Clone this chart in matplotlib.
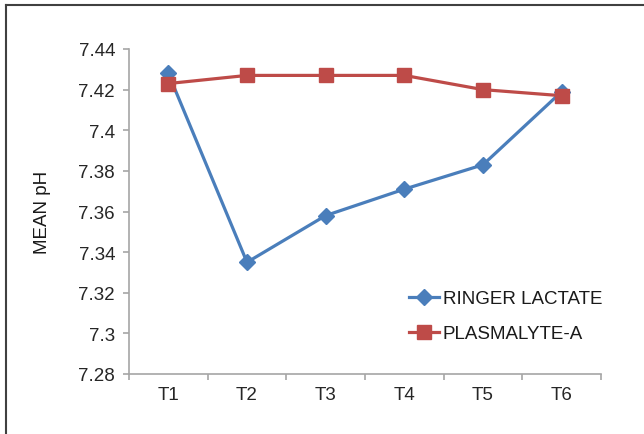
import matplotlib
matplotlib.use("Agg")
import matplotlib.pyplot as plt
from matplotlib.lines import Line2D

# Mean pH at each time point
time_points = ["T1", "T2", "T3", "T4", "T5", "T6"]
ringer_lactate = [7.428, 7.335, 7.358, 7.371, 7.383, 7.419]
plasmalyte_a = [7.423, 7.427, 7.427, 7.427, 7.420, 7.417]
y_ticks = [7.28, 7.30, 7.32, 7.34, 7.36, 7.38, 7.40, 7.42, 7.44]
y_tick_labels = ["7.28", "7.3", "7.32", "7.34", "7.36", "7.38", "7.4", "7.42", "7.44"]

plt.rcParams["font.family"] = ["Liberation Sans", "DejaVu Sans"]

W, H = 644, 435
fig = plt.figure(figsize=(W / 100, H / 100), dpi=100)
ax = fig.add_axes([129 / W, 1 - 375 / H, (601 - 129) / W, (375 - 50) / H])

blue = "#4A7EBB"
red = "#BE4B48"
x = list(range(len(time_points)))

ax.plot(x, ringer_lactate, color=blue, lw=2.3, marker="D", ms=8.5,
        mec=blue, mfc=blue, label="RINGER LACTATE", zorder=3)
ax.plot(x, plasmalyte_a, color=red, lw=2.3, marker="s", ms=9.5,
        mec=red, mfc=red, label="PLASMALYTE-A", zorder=4)

ax.set_xlim(-0.5, len(time_points) - 0.5)
ax.set_ylim(7.28, 7.44)
ax.set_yticks(y_ticks)
ax.set_yticklabels(y_tick_labels)
ax.set_xticks(x)
ax.set_xticklabels(time_points)
ax.set_xticks([i - 0.5 for i in range(len(time_points) + 1)], minor=True)

spine_color = "#A6A6A6"
for side in ("top", "right"):
    ax.spines[side].set_visible(False)
for side in ("left", "bottom"):
    ax.spines[side].set_color(spine_color)
    ax.spines[side].set_linewidth(1.2)

ax.tick_params(axis="y", which="major", length=4, width=1.2, color=spine_color,
               labelsize=13.5, labelcolor="#262626", pad=6)
ax.tick_params(axis="x", which="major", length=0, labelsize=13.5,
               labelcolor="#262626", pad=9)
ax.tick_params(axis="x", which="minor", length=4, width=1.2, color=spine_color)

ax.set_ylabel("MEAN pH", fontsize=13.5, color="#1a1a1a", labelpad=20)

leg = ax.legend(loc="upper left", bbox_to_anchor=(409 / W, 1 - 291 / H),
                bbox_transform=fig.transFigure, frameon=False, fontsize=13.5,
                handlelength=1.6, handletextpad=0.2, labelspacing=0.95,
                borderpad=0, borderaxespad=0)
for t in leg.get_texts():
    t.set_color("#1a1a1a")

# Outer frame lines (top and left) around the chart area
fig.add_artist(Line2D([6 / W, 6 / W], [0, 1 - 6 / H], transform=fig.transFigure,
                      color="#404040", lw=1.5))
fig.add_artist(Line2D([6 / W, 1], [1 - 6 / H, 1 - 6 / H], transform=fig.transFigure,
                      color="#404040", lw=1.5))

fig.savefig("out.png", dpi=100)
